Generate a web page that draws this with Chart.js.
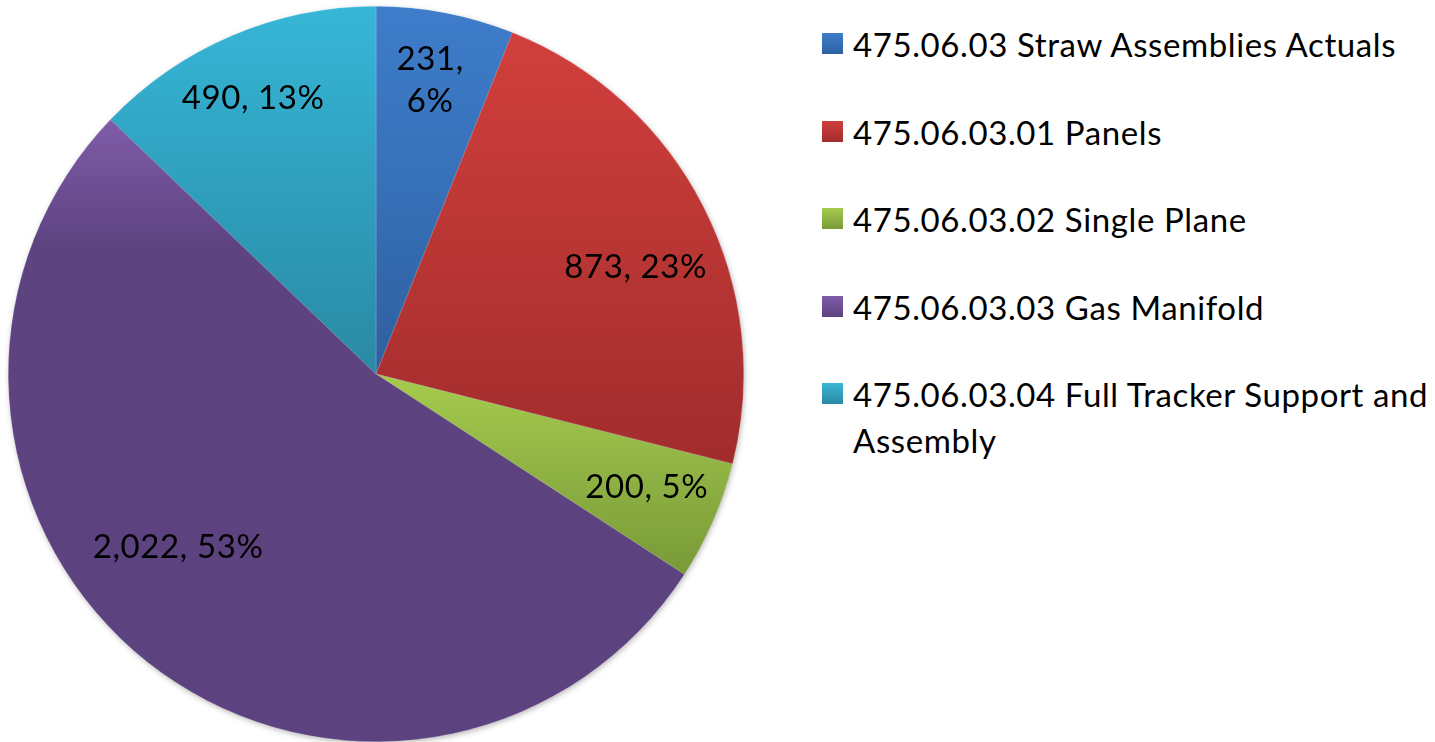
<!DOCTYPE html>
<html>
<head>
<meta charset="utf-8">
<script src="https://cdn.jsdelivr.net/npm/chart.js@4.4.0/dist/chart.umd.min.js"></script>
<style>
  html, body { margin: 0; padding: 0; background: #fff; }
  #wrap { position: relative; width: 1435px; height: 742px; overflow: hidden; }
  #pie { position: absolute; left: 0; top: 0; }
  #legend { position: absolute; left: 822px; top: 21px; width: 613px;
            font-family: Lato, "Open Sans", sans-serif; font-size: 33px; letter-spacing: 0.6px; color: #000; }
  .item { display: flex; align-items: flex-start; line-height: 46px; margin-bottom: 41.5px; }
  .box { width: 21px; height: 21px; margin-top: 12px; margin-right: 10px; flex: none; }
</style>
</head>
<body>
<div id="wrap">
  <canvas id="pie" width="752" height="742"></canvas>
  <div id="legend"></div>
</div>
<script>
const categories = [
  "475.06.03 Straw Assemblies Actuals",
  "475.06.03.01 Panels",
  "475.06.03.02 Single Plane",
  "475.06.03.03 Gas Manifold",
  "475.06.03.04 Full Tracker Support and Assembly"
];
const values = [231, 873, 200, 2022, 490];

// vertical gradient per slice, light at top to dark at bottom
const sliceTop    = ["#3e7dcb", "#d13f3c", "#a5cb4c", "#7f5ca8", "#37b6d7"];
const sliceMid    = ["#3670b7", "#b93634", "#8fb244", "#5e4381", "#2f9fbd"];
const sliceBottom = ["#2e609f", "#a12c2c", "#789a37", "#5d4280", "#2a89a3"];
const midStop     = [0.5, 0.5, 0.5, 0.2, 0.5];

const total = values.reduce((a, b) => a + b, 0);

function sliceRangeY(i, cy, R) {
  let acc = 0;
  for (let k = 0; k < i; k++) acc += values[k];
  const a0 = acc / total * 360, a1 = (acc + values[i]) / total * 360;
  const ys = [cy, cy - R * Math.cos(a0 * Math.PI / 180), cy - R * Math.cos(a1 * Math.PI / 180)];
  if (a0 <= 0.001) ys.push(cy - R);
  if (a0 <= 180 && a1 >= 180) ys.push(cy + R);
  return [Math.min(...ys), Math.max(...ys)];
}

function sliceFill(context) {
  const chart = context.chart;
  const area = chart.chartArea;
  const i = context.dataIndex;
  if (!area || i === undefined) return sliceMid[i] || sliceMid[0];
  const cy = (area.top + area.bottom) / 2;
  const R = Math.min(area.right - area.left, area.bottom - area.top) / 2;
  const [y0, y1] = sliceRangeY(i, cy, R);
  const g = chart.ctx.createLinearGradient(0, y0, 0, y1);
  g.addColorStop(0, sliceTop[i]);
  g.addColorStop(midStop[i], sliceMid[i]);
  g.addColorStop(1, sliceBottom[i]);
  return g;
}

const pieShadow = {
  id: 'pieShadow',
  beforeDatasetsDraw(chart) {
    const arc = chart.getDatasetMeta(0).data[0];
    if (!arc) return;
    const ctx = chart.ctx;
    ctx.save();
    ctx.shadowColor = 'rgba(0,0,0,0.35)';
    ctx.shadowBlur = 6;
    ctx.shadowOffsetX = 1;
    ctx.shadowOffsetY = 2;
    ctx.fillStyle = '#5d4280';
    ctx.beginPath();
    ctx.arc(arc.x, arc.y, arc.outerRadius - 1, 0, Math.PI * 2);
    ctx.fill();
    ctx.restore();
  }
};

const sliceLabels = {
  id: 'sliceLabels',
  afterDatasetsDraw(chart, args, opts) {
    const ctx = chart.ctx;
    const meta = chart.getDatasetMeta(0);
    ctx.save();
    ctx.font = opts.size + 'px ' + opts.family;
    if ('letterSpacing' in ctx) ctx.letterSpacing = opts.spacing;
    ctx.fillStyle = opts.color;
    ctx.textAlign = 'center';
    ctx.textBaseline = 'alphabetic';
    meta.data.forEach((arc, i) => {
      const p = arc.getProps(['x', 'y', 'startAngle', 'endAngle', 'outerRadius'], true);
      const mid = (p.startAngle + p.endAngle) / 2 + opts.shift[i] * Math.PI / 180;
      const r = p.outerRadius * opts.radius[i];
      const lx = p.x + Math.cos(mid) * r;
      const ly = p.y + Math.sin(mid) * r;
      const pct = Math.round(values[i] / total * 100) + '%';
      const val = values[i].toLocaleString('en-US');
      const lines = opts.wrap[i] ? [val + ',', pct] : [val + ', ' + pct];
      lines.forEach((t, k) => {
        const dy = (k - (lines.length - 1) / 2) * opts.lineHeight;
        ctx.fillText(t, lx, ly + dy + opts.size * 0.36);
      });
    });
    ctx.restore();
  }
};

new Chart(document.getElementById('pie'), {
  type: 'pie',
  data: {
    labels: categories,
    datasets: [{
      data: values,
      backgroundColor: sliceFill,
      borderColor: 'rgba(255,255,255,0.35)',
      borderWidth: 0.5
    }]
  },
  options: {
    responsive: false,
    animation: false,
    layout: { padding: { left: 8, right: 8, top: 6, bottom: 0 } },
    plugins: {
      legend: { display: false },
      tooltip: { enabled: false },
      sliceLabels: {
        family: 'Lato, "Open Sans", sans-serif',
        size: 33,
        spacing: '0.6px',
        color: '#000',
        lineHeight: 42,
        radius: [0.815, 0.765, 0.797, 0.713, 0.824],
        shift: [-0.5, 4.4, -1.1, 10.6, -0.8],
        wrap: [true, false, false, false, false]
      }
    }
  },
  plugins: [pieShadow, sliceLabels]
});

const legend = document.getElementById('legend');
categories.forEach((name, i) => {
  const item = document.createElement('div');
  item.className = 'item';
  const box = document.createElement('span');
  box.className = 'box';
  box.style.background = 'linear-gradient(' + sliceTop[i] + ', ' + sliceBottom[i] + ')';
  const text = document.createElement('span');
  text.textContent = name;
  item.appendChild(box);
  item.appendChild(text);
  legend.appendChild(item);
});
</script>
</body>
</html>
